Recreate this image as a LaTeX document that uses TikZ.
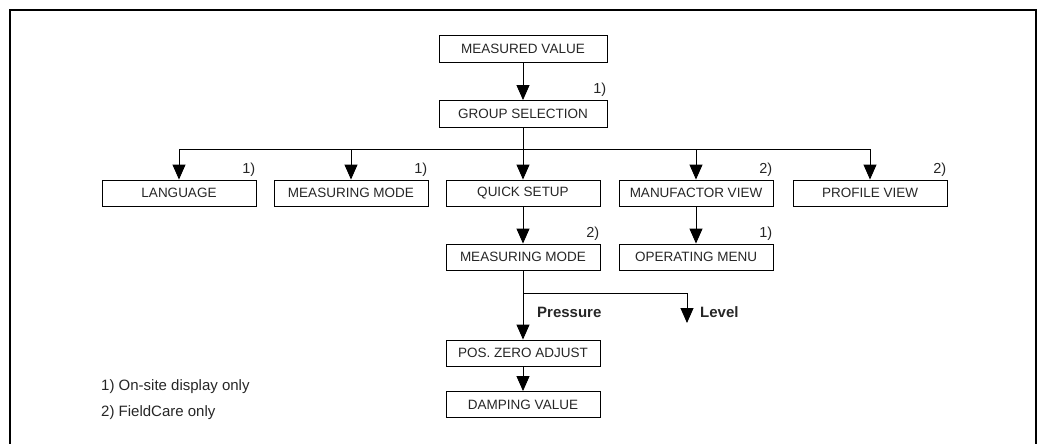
\documentclass[tikz,border=0pt]{standalone}
\usepackage{fontspec}
\setmainfont{Liberation Sans}
\usepackage{tikz}
\usetikzlibrary{arrows.meta,calc}
\tikzset{
  menubox/.style={
    draw,
    line width=0.9pt,
    shape = rectangle,
    inner sep = 0pt,
    minimum width = 154pt,
    minimum height = 26pt,
    text = black!85,
    font = \fontsize{13.5}{15}\selectfont
  },
  widebox/.style={
    menubox,
    minimum width = 168pt,
    minimum height = 27pt
  },
  flow/.style={
    line width=0.9pt,
    -{Triangle[width=13pt,length=15pt]}
  },
  plain/.style={
    line width=0.9pt
  },
  fnmark/.style={
    anchor = south east,
    inner sep = 1pt,
    yshift = 2pt,
    text = black!85,
    font = \fontsize{14.5}{16}\selectfont
  },
  choice/.style={
    anchor = west,
    inner sep = 0pt,
    text = black!85,
    font = \fontsize{15}{17}\selectfont\bfseries
  },
  footnote/.style={
    anchor = west,
    inner sep = 0pt,
    text = black!85,
    font = \fontsize{15}{17}\selectfont
  },
  frame/.style={
    line width=1.2pt
  }
}

\begin{document}
\begin{tikzpicture}[x=1pt,y=-1pt]
        \useasboundingbox (0,0) rectangle (1042,444);
        \draw[frame] (10,444) -- (10,10) -- (1036,10) -- (1036,444);

        % top of the menu
        \node[widebox] (measval) at (523,48.5) {MEASURED VALUE};
        \node[widebox] (groupsel) at (523,114) {GROUP SELECTION};

        % first level
        \node[menubox] (language) at (179,193) {LANGUAGE};
        \node[menubox] (measmode) at (351,193) {MEASURING MODE};
        \node[menubox] (quicksetup) at (523,193) {QUICK SETUP};
        \node[menubox] (manufview) at (696,193) {MANUFACTOR VIEW};
        \node[menubox] (profview) at (870,193) {PROFILE VIEW};

        % quick setup chain
        \node[menubox] (qsmode) at (523,257) {MEASURING MODE};
        \node[menubox] (opmenu) at (696,257) {OPERATING MENU};
        \node[menubox] (zeroadj) at (523,353) {POS. ZERO ADJUST};
        \node[menubox] (damping) at (523,404.5) {DAMPING VALUE};

        \node[fnmark] (fgroupsel) at (groupsel.north east) {1)};
        \node[fnmark] (flanguage) at (language.north east) {1)};
        \node[fnmark] (fmeasmode) at (measmode.north east) {1)};
        \node[fnmark] (fmanufview) at (manufview.north east) {2)};
        \node[fnmark] (fprofview) at (profview.north east) {2)};
        \node[fnmark] (fqsmode) at (qsmode.north east) {2)};
        \node[fnmark] (fopmenu) at (opmenu.north east) {1)};

        \coordinate (busleft) at (179,149);
        \coordinate (busright) at (870,149);
        \coordinate (split) at (523,293);
        \coordinate (level) at (687,323);

        \draw[flow] (measval) -- (groupsel);
        \draw[plain] (groupsel.south) -- (groupsel.south |- busleft);
        \draw[plain] (busleft) -- (busright);
        \draw[flow] (busleft) -- (language.north);
        \draw[flow] (measmode.north |- busleft) -- (measmode.north);
        \draw[flow] (groupsel.south) -- (quicksetup.north);
        \draw[flow] (manufview.north |- busleft) -- (manufview.north);
        \draw[flow] (busright) -- (profview.north);
        \draw[flow] (quicksetup) -- (qsmode);
        \draw[flow] (manufview) -- (opmenu);
        \draw[flow] (qsmode) -- (zeroadj);
        \draw[flow] (split) -| (level);
        \draw[flow] (zeroadj) -- (damping);

        \node[choice] (pressure) at (537,312) {Pressure};
        \node[choice] (levellbl) at (700,312) {Level};

        \node[footnote] (note1) at (101,387) {1) On-site display only};
        \node[footnote] (note2) at (101,413) {2) FieldCare only};
    \end{tikzpicture}
\end{document}
